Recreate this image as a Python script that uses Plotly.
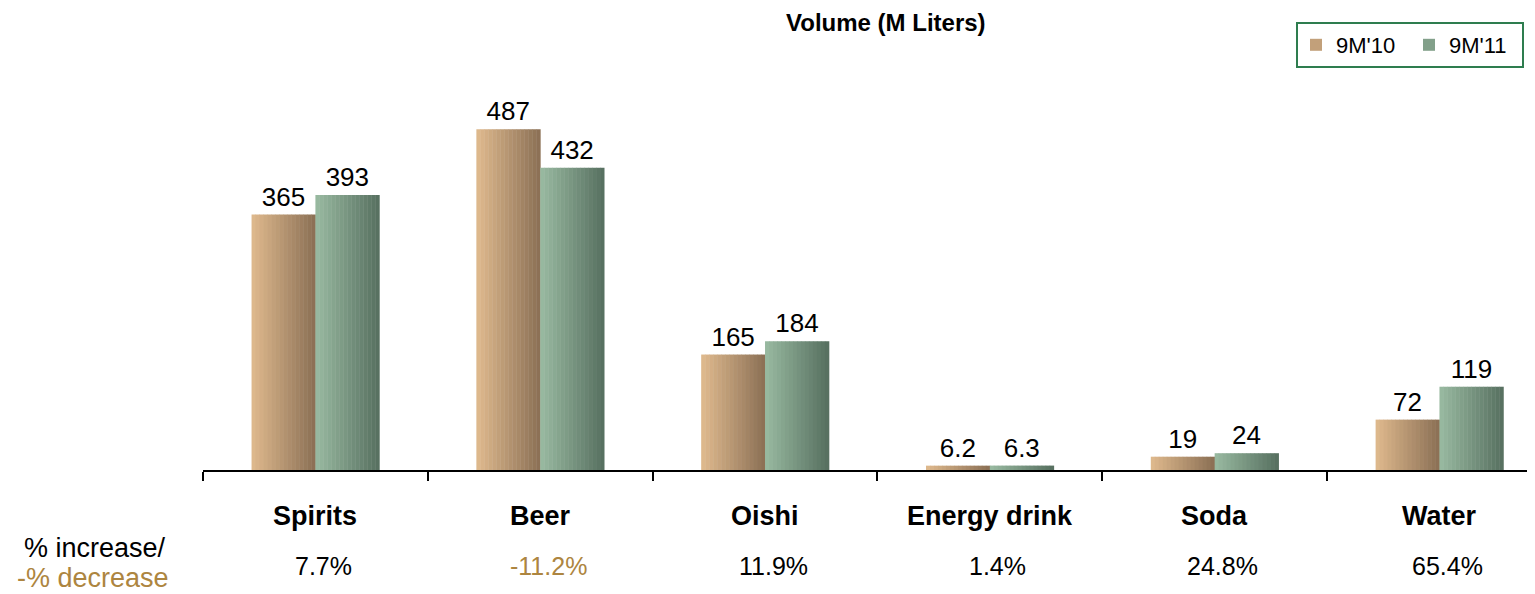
import plotly.graph_objects as go

categories = ["Spirits", "Beer", "Oishi", "Energy drink", "Soda", "Water"]
vol_9m10 = [365, 487, 165, 6.2, 19, 72]
vol_9m11 = [393, 432, 184, 6.3, 24, 119]
labels_9m10 = ["365", "487", "165", "6.2", "19", "72"]
labels_9m11 = ["393", "432", "184", "6.3", "24", "119"]
pct_change = ["7.7%", "-11.2%", "11.9%", "1.4%", "24.8%", "65.4%"]

FONT = "Liberation Sans, Arial, sans-serif"
GOLD = "#AD8540"
BW = 0.284   # single bar width in category units
N = 16       # gradient slices

def lerp(c1, c2, t):
    return "rgb(%d,%d,%d)" % tuple(round(a + (b - a) * t) for a, b in zip(c1, c2))

series = [
    ("9M'10", vol_9m10, labels_9m10, (224, 186, 142), (138, 111, 84), -BW),
    ("9M'11", vol_9m11, labels_9m11, (153, 186, 161), (86, 111, 95), 0.0),
]

fig = go.Figure()
for name, vals, labs, cl, cr, off0 in series:
    for k in range(N):
        fig.add_trace(go.Bar(
            x=categories, y=vals, width=BW / N + 0.002, offset=off0 + k * BW / N,
            marker=dict(color=lerp(cl, cr, (k + 0.5) / N), line=dict(width=0)),
            name=name, legendgroup=name, showlegend=(k == N // 3),
            hoverinfo="skip",
        ))
    fig.add_trace(go.Bar(
        x=categories, y=vals, width=BW, offset=off0,
        marker=dict(color="rgba(0,0,0,0)", line=dict(width=0)),
        text=labs, textposition="outside", constraintext="none",
        textfont=dict(size=26, color="black", family=FONT),
        cliponaxis=False, showlegend=False, legendgroup=name, name=name,
    ))

annotations = []
for i, c in enumerate(categories):
    annotations.append(dict(x=c, y=0, xref="x", yref="paper", yshift=-46,
                            text="<b>%s</b>" % c, showarrow=False, yanchor="middle",
                            xanchor="center",
                            font=dict(size=27, color="black", family=FONT)))
    p = pct_change[i]
    annotations.append(dict(x=c, y=0, xref="x", yref="paper", yshift=-96, xshift=8,
                            text=p, showarrow=False, yanchor="middle", xanchor="center",
                            font=dict(size=25, color=GOLD if p.startswith("-") else "black",
                                      family=FONT)))
annotations += [
    dict(x=0, y=0, xref="paper", yref="paper", xshift=-108, yshift=-78,
         text="% increase/", showarrow=False, yanchor="middle", xanchor="center",
         font=dict(size=27, color="black", family=FONT)),
    dict(x=0, y=0, xref="paper", yref="paper", xshift=-110, yshift=-108,
         text="-% decrease", showarrow=False, yanchor="middle", xanchor="center",
         font=dict(size=27, color=GOLD, family=FONT)),
    dict(x=(886 - 203) / 1332, y=1, xref="paper", yref="paper", yshift=-2,
         text="<b>Volume (M Liters)</b>", showarrow=False, yanchor="middle",
         xanchor="center",
         font=dict(size=24, color="black", family=FONT)),
]

fig.update_layout(
    width=1527, height=586,
    margin=dict(l=195, r=0, t=12, b=124, autoexpand=False),
    plot_bgcolor="white", paper_bgcolor="white",
    barmode="overlay",
    font=dict(family=FONT, color="black"),
    showlegend=True,
    legend=dict(orientation="h", xref="paper", yref="paper",
                x=(1296 - 203) / 1332, xanchor="left", y=1 - 2 / 450, yanchor="top",
                bordercolor="#2E7D4F", borderwidth=2, bgcolor="white",
                font=dict(size=22, family=FONT, color="black"),
                entrywidth=68, entrywidthmode="pixels"),
    xaxis=dict(type="category", range=[-0.5, 5.425], showgrid=False,
               showline=True, linecolor="black", linewidth=2,
               ticks="outside", tickson="boundaries", ticklen=9, tickwidth=2,
               tickcolor="black", showticklabels=False, zeroline=False),
    yaxis=dict(visible=False, range=[0, 643], showgrid=False, zeroline=False),
    annotations=annotations,
)

fig.write_html("out.html")
